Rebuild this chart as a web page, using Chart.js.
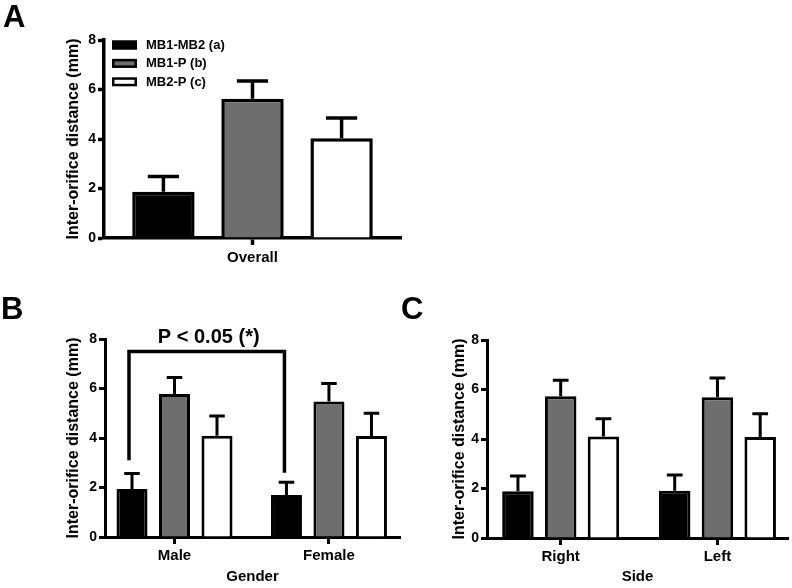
<!DOCTYPE html>
<html>
<head>
<meta charset="utf-8">
<script src="https://cdn.jsdelivr.net/npm/chart.js@4"></script>
<style>
  html, body { margin: 0; padding: 0; background: #fff; }
  #wrap { position: relative; width: 792px; height: 588px; overflow: hidden; background: #fff; }
  canvas { position: absolute; }
  .plabel { position: absolute; font: bold 31px 'Liberation Sans', Arial, sans-serif; line-height: 31px; color: #000; }
</style>
</head>
<body>
<div id="wrap">
  <canvas id="cA" width="402" height="290" style="left:0;top:0"></canvas>
  <canvas id="cB" width="402" height="298" style="left:0;top:290px"></canvas>
  <canvas id="cC" width="392" height="298" style="left:400px;top:290px"></canvas>
  <div class="plabel" style="left:3px;top:1px">A</div>
  <div class="plabel" style="left:1px;top:293px">B</div>
  <div class="plabel" style="left:401px;top:293px">C</div>
</div>
<script>
// ---------------- DATA ----------------
const seriesNames = ['MB1-MB2 (a)', 'MB1-P (b)', 'MB2-P (c)'];
const yTickValues = [0, 2, 4, 6, 8];
const yTitle = 'Inter-orifice distance (mm)';

// Panel A - Overall
const overallLabels = ['Overall'];
const overallMB1MB2 = [1.87];
const overallMB1P   = [5.63];
const overallMB2P   = [4.03];
const overallMB1MB2Sd = [0.61];
const overallMB1PSd   = [0.71];
const overallMB2PSd   = [0.82];

// Panel B - Gender
const genderLabels = ['Male', 'Female'];
const genderTitle = 'Gender';
const genderMB1MB2 = [1.94, 1.70];
const genderMB1P   = [5.78, 5.47];
const genderMB2P   = [4.09, 4.08];
const genderMB1MB2Sd = [0.63, 0.51];
const genderMB1PSd   = [0.66, 0.73];
const genderMB2PSd   = [0.80, 0.92];
const genderBracket  = [3.1, 7.5, 2.6];   // left foot, top, right foot (mm)
const genderPText    = 'P < 0.05 (*)';

// Panel C - Side
const sideLabels = ['Right', 'Left'];
const sideTitle = 'Side';
const sideMB1MB2 = [1.89, 1.91];
const sideMB1P   = [5.73, 5.69];
const sideMB2P   = [4.10, 4.08];
const sideMB1MB2Sd = [0.62, 0.64];
const sideMB1PSd   = [0.64, 0.77];
const sideMB2PSd   = [0.72, 0.94];

// ---------------- STYLE ----------------
const FONT = "'Liberation Sans', Arial, Helvetica, sans-serif";
const fills = ['#000000', '#6e6e6e', '#ffffff'];
Chart.defaults.font.family = FONT;
Chart.defaults.color = '#000';

const errorBars = {
  id: 'errorBars',
  afterDatasetsDraw(chart, args, o) {
    const ctx = chart.ctx, ys = chart.scales.y;
    ctx.save();
    ctx.strokeStyle = '#000';
    ctx.lineWidth = o.lineWidth || 3;
    ctx.lineCap = 'butt';
    chart.data.datasets.forEach((ds, i) => {
      const meta = chart.getDatasetMeta(i);
      meta.data.forEach((bar, j) => {
        const top = ys.getPixelForValue(ds.data[j] + ds.errors[j]);
        const half = bar.width * 0.25;
        ctx.beginPath();
        ctx.moveTo(bar.x, bar.y);
        ctx.lineTo(bar.x, top);
        ctx.moveTo(bar.x - half, top);
        ctx.lineTo(bar.x + half, top);
        ctx.stroke();
      });
    });
    ctx.restore();
  }
};

const boxLegend = {
  id: 'boxLegend',
  afterDraw(chart, args, o) {
    if (!o.show) return;
    const ctx = chart.ctx;
    ctx.save();
    chart.data.datasets.forEach((ds, i) => {
      const cy = o.y + i * o.rowGap;
      ctx.fillStyle = ds.backgroundColor;
      ctx.fillRect(o.x, cy - o.h / 2, o.w, o.h);
      ctx.lineWidth = o.border;
      ctx.strokeStyle = '#000';
      ctx.strokeRect(o.x + o.border / 2, cy - o.h / 2 + o.border / 2, o.w - o.border, o.h - o.border);
      ctx.fillStyle = '#000';
      ctx.font = 'bold 13px ' + FONT;
      ctx.textAlign = 'left';
      ctx.textBaseline = 'middle';
      ctx.fillText(ds.label, o.x + o.w + o.gap, cy + 0.5);
    });
    ctx.restore();
  }
};

const bracket = {
  id: 'bracket',
  afterDatasetsDraw(chart, args, o) {
    if (!o.values) return;
    const ctx = chart.ctx, ys = chart.scales.y;
    const m = chart.getDatasetMeta(0);
    const xL = m.data[0].x - 3, xR = m.data[1].x - 2;
    const yTop = ys.getPixelForValue(o.values[1]);
    ctx.save();
    ctx.strokeStyle = '#000';
    ctx.lineWidth = 3.5;
    ctx.lineJoin = 'miter';
    ctx.lineCap = 'butt';
    ctx.beginPath();
    ctx.moveTo(xL, ys.getPixelForValue(o.values[0]));
    ctx.lineTo(xL, yTop);
    ctx.lineTo(xR, yTop);
    ctx.lineTo(xR, ys.getPixelForValue(o.values[2]));
    ctx.stroke();
    ctx.fillStyle = '#000';
    ctx.font = 'bold 20px ' + FONT;
    ctx.textAlign = 'center';
    ctx.textBaseline = 'alphabetic';
    ctx.fillText(o.text, (xL + xR) / 2 + 2, yTop - 8);
    ctx.restore();
  }
};

function makePanel(id, cfg) {
  const datasets = cfg.means.map((m, i) => ({
    label: seriesNames[i],
    data: m,
    errors: cfg.sds[i],
    backgroundColor: fills[i],
    borderColor: '#000',
    borderWidth: cfg.lw,
    borderSkipped: 'start',
    categoryPercentage: cfg.catPct,
    barPercentage: cfg.barPct
  }));
  return new Chart(document.getElementById(id), {
    type: 'bar',
    data: { labels: cfg.labels, datasets },
    plugins: [errorBars, boxLegend, bracket],
    options: {
      responsive: false,
      animation: false,
      events: [],
      layout: { padding: cfg.pad },
      plugins: {
        legend: { display: false },
        tooltip: { enabled: false },
        errorBars: { lineWidth: cfg.lw },
        boxLegend: cfg.legend || { show: false },
        bracket: cfg.bracket || {}
      },
      scales: {
        x: {
          type: 'category',
          offset: true,
          grid: { offset: false, drawOnChartArea: false, drawTicks: true, tickLength: 7, tickWidth: cfg.lw, tickColor: '#000' },
          border: { display: true, width: cfg.lw, color: '#000' },
          ticks: { font: { size: 15, weight: 'bold' }, color: '#000', padding: cfg.xTickPad, maxRotation: 0, autoSkip: false },
          title: cfg.xTitle ? { display: true, text: cfg.xTitle, font: { size: 15, weight: 'bold' }, color: '#000', padding: { top: 0, bottom: 0 } } : { display: false },
          afterBuildTicks: s => {
            if (cfg.edges) {
              s._startValue = -cfg.edges[0];
              s._valueRange = cfg.labels.length - 1 + cfg.edges[0] + cfg.edges[1];
            }
          },
          afterFit: s => { s.height = cfg.xHeight; }
        },
        y: {
          min: yTickValues[0],
          max: yTickValues[yTickValues.length - 1],
          afterBuildTicks: s => { s.ticks = yTickValues.map(v => ({ value: v })); },
          grid: { drawOnChartArea: false, drawTicks: true, tickLength: 6, tickWidth: cfg.lw, tickColor: '#000' },
          border: { display: true, width: cfg.lw, color: '#000' },
          ticks: { font: { size: 14, weight: 'bold' }, color: '#000', padding: 2 },
          title: { display: true, text: yTitle, font: { size: 16, weight: 'bold' }, color: '#000', padding: { top: 0, bottom: 0 } },
          afterFit: s => { s.width = cfg.yWidth; }
        }
      }
    }
  });
}

makePanel('cA', {
  labels: overallLabels,
  means: [overallMB1MB2, overallMB1P, overallMB2P],
  sds: [overallMB1MB2Sd, overallMB1PSd, overallMB2PSd],
  lw: 3.5,
  catPct: 0.9, barPct: 0.70,
  pad: { left: 64, top: 40, right: 1, bottom: 10 },
  yWidth: 40, xHeight: 42, xTickPad: 4,
  legend: { show: true, x: 112, y: 45, rowGap: 18.4, w: 25, h: 9, border: 2.5, gap: 9 }
});

makePanel('cB', {
  labels: genderLabels,
  means: [genderMB1MB2, genderMB1P, genderMB2P],
  sds: [genderMB1MB2Sd, genderMB1PSd, genderMB2PSd],
  lw: 3,
  catPct: 0.8255, barPct: 0.73,
  edges: [0.45, 0.46],
  pad: { left: 64, top: 49, right: 2, bottom: 2 },
  yWidth: 41, xHeight: 49, xTickPad: 3,
  xTitle: genderTitle,
  bracket: { values: genderBracket, text: genderPText }
});

makePanel('cC', {
  labels: sideLabels,
  means: [sideMB1MB2, sideMB1P, sideMB2P],
  sds: [sideMB1MB2Sd, sideMB1PSd, sideMB2PSd],
  lw: 3,
  catPct: 0.818, barPct: 0.737,
  edges: [0.47, 0.45],
  pad: { left: 50, top: 50, right: 4, bottom: 2 },
  yWidth: 37, xHeight: 48, xTickPad: 3,
  xTitle: sideTitle
});
</script>
</body>
</html>
